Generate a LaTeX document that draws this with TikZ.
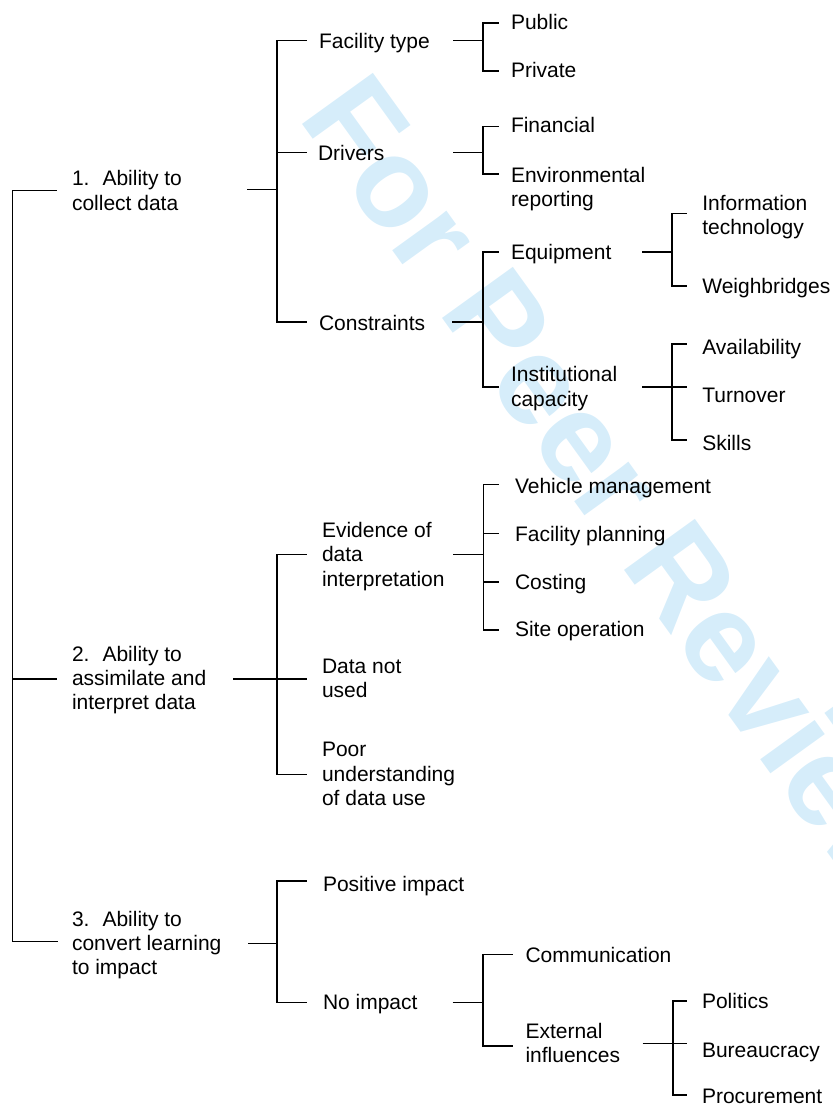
\documentclass[tikz,border=0pt]{standalone}
\usepackage{fontspec}
\setmainfont{Liberation Sans}
\definecolor{wm}{RGB}{214,237,250}
\begin{document}
\begin{tikzpicture}[x=1pt,y=-1pt,
  lbl/.style={anchor=base west, inner sep=0pt, outer sep=0pt, align=left, font=\fontsize{21}{24.4}\selectfont},
  ln/.style={line width=1.6pt}]
\useasboundingbox (0,0) rectangle (833,1109);
\begin{scope}
\clip (0,0) rectangle (833,1109);
\node[anchor=base west, inner sep=0pt, rotate=-54.2, text=wm, font=\bfseries\fontsize{127}{127}\selectfont] (wmk) at (297,117) {For Peer Review};
\end{scope}

% labels (anchor = baseline of the last line)
\node[lbl] (L1) at (72,210.1) {1.\hspace*{13pt}Ability to\\collect data};
\node[lbl] (L2) at (72,709.8) {2.\hspace*{13pt}Ability to\\assimilate and\\interpret data};
\node[lbl] (L3) at (72,974.8) {3.\hspace*{13pt}Ability to\\convert learning\\to impact};
\node[lbl] (FT) at (319,48.3) {Facility type};
\node[lbl] (DR) at (318,160) {Drivers};
\node[lbl] (CO) at (319,330) {Constraints};
\node[lbl] (PU) at (511,29.3) {Public};
\node[lbl] (PR) at (511,77.7) {Private};
\node[lbl] (FI) at (511,132.3) {Financial};
\node[lbl] (ER) at (511,206.4) {Environmental\\reporting};
\node[lbl] (EQ) at (511,259) {Equipment};
\node[lbl] (IC) at (511,406.1) {Institutional\\capacity};
\node[lbl] (IT) at (702.3,234.4) {Information\\technology};
\node[lbl] (WB) at (702.3,293.3) {Weighbridges};
\node[lbl] (AV) at (702.3,354.3) {Availability};
\node[lbl] (TU) at (702.3,402) {Turnover};
\node[lbl] (SK) at (702.3,450) {Skills};
\node[lbl] (EV) at (322,586.1) {Evidence of\\data\\interpretation};
\node[lbl] (DN) at (322,697.7) {Data not\\used};
\node[lbl] (PO) at (322,805.5) {Poor\\understanding\\of data use};
\node[lbl] (VM) at (515,493.3) {Vehicle management};
\node[lbl] (FP) at (515,541) {Facility planning};
\node[lbl] (CS) at (515,589.3) {Costing};
\node[lbl] (SO) at (515,636.7) {Site operation};
\node[lbl] (PI) at (323,891.7) {Positive impact};
\node[lbl] (NI) at (323,1009.3) {No impact};
\node[lbl] (CM) at (525.5,962.7) {Communication};
\node[lbl] (EI) at (525.5,1062.7) {External\\influences};
\node[lbl] (PL) at (702,1008.3) {Politics};
\node[lbl] (BU) at (702,1057.3) {Bureaucracy};
\node[lbl] (PC) at (702,1103.3) {Procurement};

% connector coordinates
\coordinate (root) at (12.5,679);
\coordinate (L1-in) at (57,190.5);
\coordinate (L2-in) at (57,679);
\coordinate (L3-in) at (58,941.5);

\coordinate (L1-out) at (247,189.5);  \coordinate (L1-j) at (277,189.5);
\coordinate (FT-in) at (307,40.5);    \coordinate (DR-in) at (307,152.5);  \coordinate (CO-in) at (307,321.7);

\coordinate (FT-out) at (453.3,40.5); \coordinate (FT-j) at (482.7,40.5);
\coordinate (PU-in) at (498.7,22.7);  \coordinate (PR-in) at (498.7,70.7);

\coordinate (DR-out) at (453.3,152.5); \coordinate (DR-j) at (482.7,152.5);
\coordinate (FI-in) at (498.7,126.3);  \coordinate (ER-in) at (498.7,174);

\coordinate (CO-out) at (452.3,321.7); \coordinate (CO-j) at (482.7,321.7);
\coordinate (EQ-in) at (498.7,251.7);  \coordinate (IC-in) at (498.7,387);

\coordinate (EQ-out) at (642.3,251.7); \coordinate (EQ-j) at (672,251.7);
\coordinate (IT-in) at (687.3,213.3);  \coordinate (WB-in) at (687.3,286);

\coordinate (IC-out) at (642.3,387); \coordinate (IC-j) at (672,387);
\coordinate (AV-in) at (687.3,343.7); \coordinate (TU-in) at (687.3,387); \coordinate (SK-in) at (687.3,440);

\coordinate (L2-out) at (233.3,679); \coordinate (L2-j) at (277,679);
\coordinate (EV-in) at (307.3,554.3); \coordinate (DN-in) at (307.3,679); \coordinate (PO-in) at (307.3,774.3);

\coordinate (EV-out) at (453.3,554.3); \coordinate (EV-j) at (483.3,554.3);
\coordinate (VM-in) at (498.7,484.3); \coordinate (FP-in) at (498.7,533.3);
\coordinate (CS-in) at (498.7,581.7); \coordinate (SO-in) at (498.7,630);

\coordinate (L3-out) at (248.4,943.5); \coordinate (L3-j) at (277,943.5);
\coordinate (PI-in) at (307.4,881); \coordinate (NI-in) at (307.4,1002.3);

\coordinate (NI-out) at (452.7,1002.3); \coordinate (NI-j) at (483,1002.3);
\coordinate (CM-in) at (513.3,954.3); \coordinate (EI-in) at (513.3,1046);

\coordinate (EI-out) at (642.6,1043.3); \coordinate (EI-j) at (672.9,1043.3);
\coordinate (PL-in) at (687.2,1001); \coordinate (BU-in) at (687.2,1043.3); \coordinate (PC-in) at (687.2,1095);

% connectors
\draw[ln] (root) |- (L1-in);
\draw[ln] (root) |- (L2-in);
\draw[ln] (root) |- (L3-in);

\draw[ln] (L1-out) -- (L1-j);
\draw[ln] (L1-j) |- (FT-in);
\draw[ln] (L1-j) |- (DR-in);
\draw[ln] (L1-j) |- (CO-in);

\draw[ln] (FT-out) -- (FT-j);
\draw[ln] (FT-j) |- (PU-in);
\draw[ln] (FT-j) |- (PR-in);

\draw[ln] (DR-out) -- (DR-j);
\draw[ln] (DR-j) |- (FI-in);
\draw[ln] (DR-j) |- (ER-in);

\draw[ln] (CO-out) -- (CO-j);
\draw[ln] (CO-j) |- (EQ-in);
\draw[ln] (CO-j) |- (IC-in);

\draw[ln] (EQ-out) -- (EQ-j);
\draw[ln] (EQ-j) |- (IT-in);
\draw[ln] (EQ-j) |- (WB-in);

\draw[ln] (IC-out) -- (IC-j);
\draw[ln] (IC-j) |- (AV-in);
\draw[ln] (IC-j) |- (TU-in);
\draw[ln] (IC-j) |- (SK-in);

\draw[ln] (L2-out) -- (L2-j);
\draw[ln] (L2-j) |- (EV-in);
\draw[ln] (L2-j) |- (DN-in);
\draw[ln] (L2-j) |- (PO-in);

\draw[ln] (EV-out) -- (EV-j);
\draw[ln] (EV-j) |- (VM-in);
\draw[ln] (EV-j) |- (FP-in);
\draw[ln] (EV-j) |- (CS-in);
\draw[ln] (EV-j) |- (SO-in);

\draw[ln] (L3-out) -- (L3-j);
\draw[ln] (L3-j) |- (PI-in);
\draw[ln] (L3-j) |- (NI-in);

\draw[ln] (NI-out) -- (NI-j);
\draw[ln] (NI-j) |- (CM-in);
\draw[ln] (NI-j) |- (EI-in);

\draw[ln] (EI-out) -- (EI-j);
\draw[ln] (EI-j) |- (PL-in);
\draw[ln] (EI-j) |- (BU-in);
\draw[ln] (EI-j) |- (PC-in);
\end{tikzpicture}
\end{document}
